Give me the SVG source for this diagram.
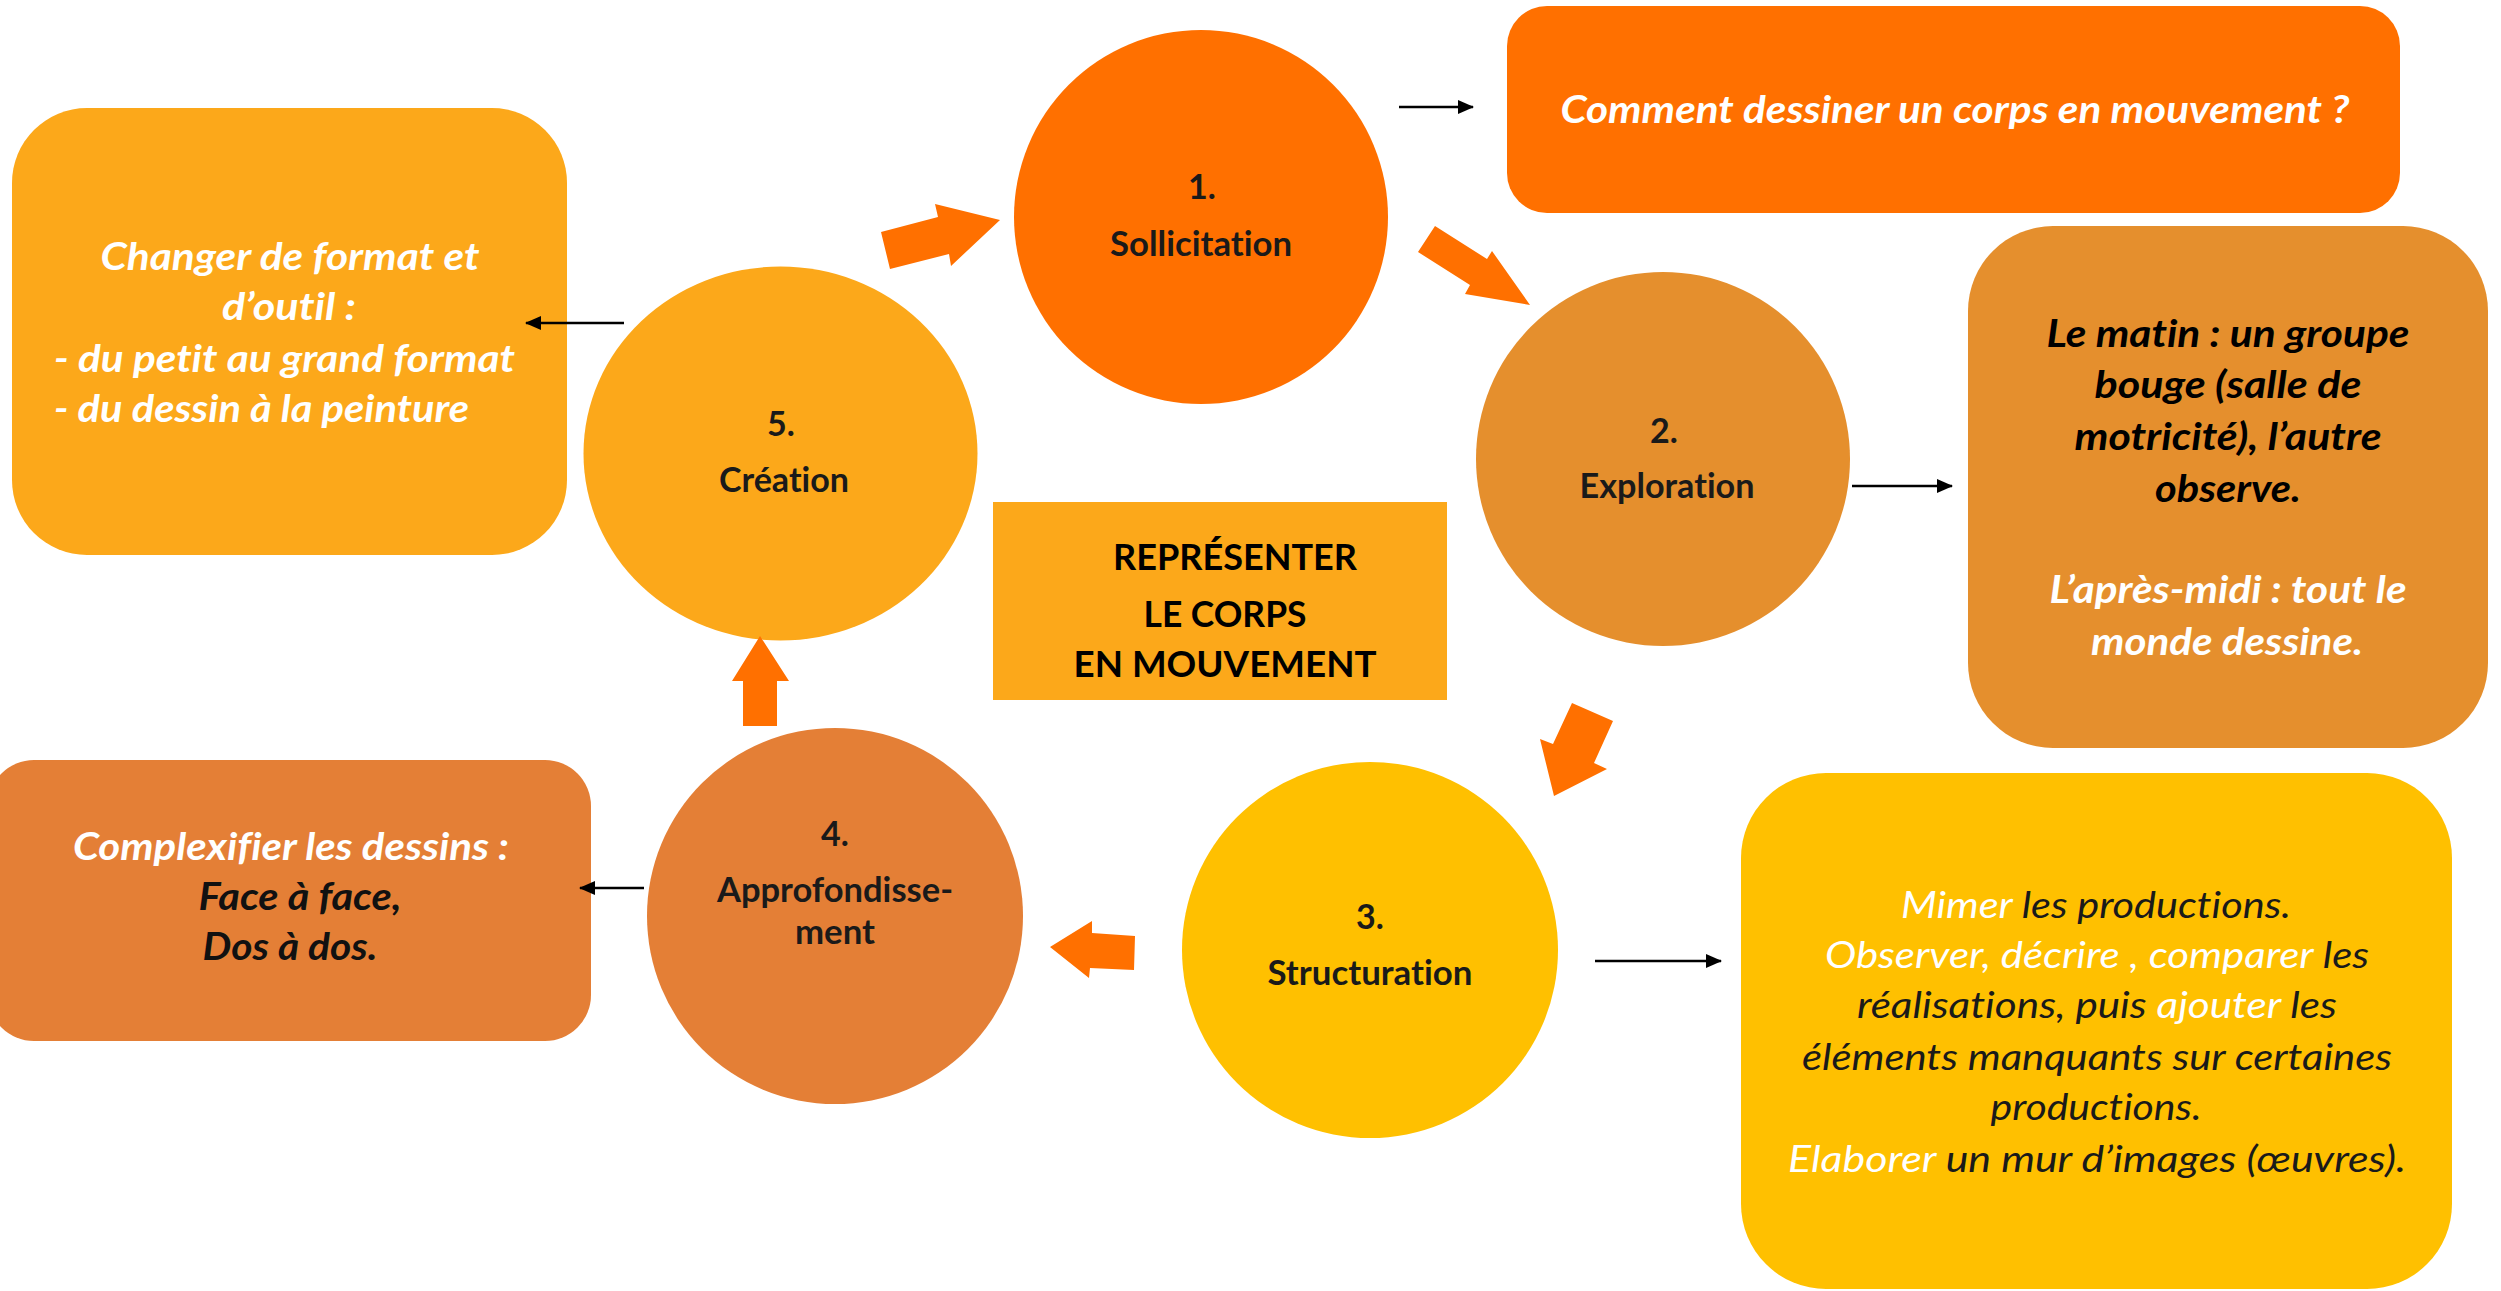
<svg xmlns="http://www.w3.org/2000/svg" width="2501" height="1291" viewBox="0 0 2501 1291">
<style>
text{font-family:Lato,"Open Sans","Liberation Sans",sans-serif;font-variant-ligatures:none;font-feature-settings:"liga" 0,"dlig" 0;}
.lbl{font-size:34px;font-weight:bold;fill:#1a1a1a;text-anchor:middle;}
.bi{font-size:38px;font-weight:bold;font-style:italic;text-anchor:middle;}
.ri{font-size:37px;font-style:italic;text-anchor:middle;fill:#1a1a1a;}
.ctr{font-size:37px;font-weight:bold;fill:#000;text-anchor:middle;}
.w{fill:#fff;}
.k{fill:#111;}
.thin{stroke:#000;stroke-width:2.6;fill:none;marker-end:url(#ah);}
.blk{fill:#FF7000;}
</style>
<defs>
<marker id="ah" markerUnits="userSpaceOnUse" markerWidth="16" markerHeight="14" refX="15" refY="7" orient="auto">
<path d="M0,0 L16,7 L0,14 z" fill="#000"/>
</marker>
</defs>

<g id="box-creation">
<rect x="12" y="108" width="555" height="447" rx="75" ry="75" fill="#FCA81A"/>
<text class="bi w" x="290" y="270" textLength="379" lengthAdjust="spacingAndGlyphs">Changer de format et</text>
<text class="bi w" x="289" y="320" textLength="134" lengthAdjust="spacingAndGlyphs">d’outil :</text>
<text class="bi w" x="54" y="372" style="text-anchor:start" textLength="461" lengthAdjust="spacingAndGlyphs">- du petit au grand format</text>
<text class="bi w" x="54" y="422" style="text-anchor:start" textLength="415" lengthAdjust="spacingAndGlyphs">- du dessin à la peinture</text>
</g>

<g id="box-sollicitation">
<rect x="1507" y="6" width="893" height="207" rx="40" ry="40" fill="#FF7000"/>
<text class="bi w" x="1955" y="123" textLength="789" lengthAdjust="spacingAndGlyphs">Comment dessiner un corps en mouvement ?</text>
</g>

<g id="box-exploration">
<rect x="1968" y="226" width="520" height="522" rx="85" ry="85" fill="#E58F2D"/>
<text class="bi" x="2228" y="347" fill="#000" textLength="363" lengthAdjust="spacingAndGlyphs">Le matin : un groupe</text>
<text class="bi" x="2228" y="398" fill="#000" textLength="267" lengthAdjust="spacingAndGlyphs">bouge (salle de</text>
<text class="bi" x="2228" y="450" fill="#000" textLength="307" lengthAdjust="spacingAndGlyphs">motricité), l’autre</text>
<text class="bi" x="2228" y="502" fill="#000" textLength="146" lengthAdjust="spacingAndGlyphs">observe.</text>
<text class="bi w" x="2228" y="603" textLength="357" lengthAdjust="spacingAndGlyphs">L’après-midi : tout le</text>
<text class="bi w" x="2227" y="655" textLength="272" lengthAdjust="spacingAndGlyphs">monde dessine.</text>
</g>

<g id="box-structuration">
<rect x="1741" y="773" width="711" height="516" rx="85" ry="85" fill="#FFC000"/>
<text class="ri" x="2096" y="918" textLength="390" lengthAdjust="spacingAndGlyphs"><tspan class="w">Mimer</tspan> les productions.</text>
<text class="ri" x="2097" y="968" textLength="544" lengthAdjust="spacingAndGlyphs"><tspan class="w">Observer, décrire , comparer</tspan> les</text>
<text class="ri" x="2097" y="1018" textLength="480" lengthAdjust="spacingAndGlyphs">réalisations, puis <tspan class="w">ajouter</tspan> les</text>
<text class="ri" x="2097" y="1070" textLength="590" lengthAdjust="spacingAndGlyphs">éléments manquants sur certaines</text>
<text class="ri" x="2096" y="1120" textLength="211" lengthAdjust="spacingAndGlyphs">productions.</text>
<text class="ri" x="2097" y="1172" textLength="618" lengthAdjust="spacingAndGlyphs"><tspan class="w">Elaborer</tspan> un mur d’images (œuvres).</text>
</g>

<g id="box-approfondissement">
<rect x="-12" y="760" width="603" height="281" rx="46" ry="46" fill="#E47F36"/>
<text class="bi w" x="291" y="860" textLength="436" lengthAdjust="spacingAndGlyphs">Complexifier les dessins :</text>
<text class="bi k" x="300" y="910" textLength="203" lengthAdjust="spacingAndGlyphs">Face à face,</text>
<text class="bi k" x="290" y="960" textLength="175" lengthAdjust="spacingAndGlyphs">Dos à dos.</text>
</g>

<g id="center-title">
<rect x="993" y="502" width="454" height="198" fill="#FCA81A"/>
<text class="ctr" x="1235" y="570" textLength="244" lengthAdjust="spacingAndGlyphs">REPRÉSENTER</text>
<text class="ctr" x="1225" y="627" textLength="163" lengthAdjust="spacingAndGlyphs">LE CORPS</text>
<text class="ctr" x="1225" y="677" textLength="303" lengthAdjust="spacingAndGlyphs">EN MOUVEMENT</text>
</g>

<g id="node-1">
<circle cx="1201" cy="217" r="187" fill="#FF7000"/>
<text class="lbl" x="1202" y="199">1.</text>
<text class="lbl" x="1201" y="256" textLength="182" lengthAdjust="spacingAndGlyphs">Sollicitation</text>
</g>

<g id="node-2">
<circle cx="1663" cy="459" r="187" fill="#E58F2D"/>
<text class="lbl" x="1664" y="443">2.</text>
<text class="lbl" x="1667" y="498" textLength="175" lengthAdjust="spacingAndGlyphs">Exploration</text>
</g>

<g id="node-3">
<circle cx="1370" cy="950" r="188" fill="#FFC000"/>
<text class="lbl" x="1370" y="929">3.</text>
<text class="lbl" x="1370" y="985" textLength="205" lengthAdjust="spacingAndGlyphs">Structuration</text>
</g>

<g id="node-4">
<circle cx="835" cy="916" r="188" fill="#E47F36"/>
<text class="lbl" x="835" y="846">4.</text>
<text class="lbl" x="835" y="902" textLength="236" lengthAdjust="spacingAndGlyphs">Approfondisse-</text>
<text class="lbl" x="835" y="944" textLength="80" lengthAdjust="spacingAndGlyphs">ment</text>
</g>

<g id="node-5">
<ellipse cx="780.5" cy="453.5" rx="197" ry="187" fill="#FCA81A"/>
<text class="lbl" x="781" y="436">5.</text>
<text class="lbl" x="784" y="492" textLength="130" lengthAdjust="spacingAndGlyphs">Création</text>
</g>

<g id="connectors">
<line class="thin" x1="1399" y1="107" x2="1473" y2="107"/>
<line class="thin" x1="1852" y1="486" x2="1952" y2="486"/>
<line class="thin" x1="1595" y1="961" x2="1721" y2="961"/>
<line class="thin" x1="644" y1="888" x2="580" y2="888"/>
<line class="thin" x1="624" y1="323" x2="526" y2="323"/>
<polygon class="blk" points="881,232 938,217 935,204 1000,220 951,266 949,254 890,269"/>
<polygon class="blk" points="1435,226 1487,259 1492,251 1530,305 1465,294 1470,285 1418,252"/>
<polygon class="blk" points="1572,703 1613,721 1594,763 1607,769 1554,796 1540,739 1553,744"/>
<polygon class="blk" points="1050,947 1092,921 1092,933 1135,936 1134,970 1090,968 1089,978"/>
<polygon class="blk" points="743,726 743,681 732,681 760,636 789,681 777,681 777,726"/>
</g>
</svg>
